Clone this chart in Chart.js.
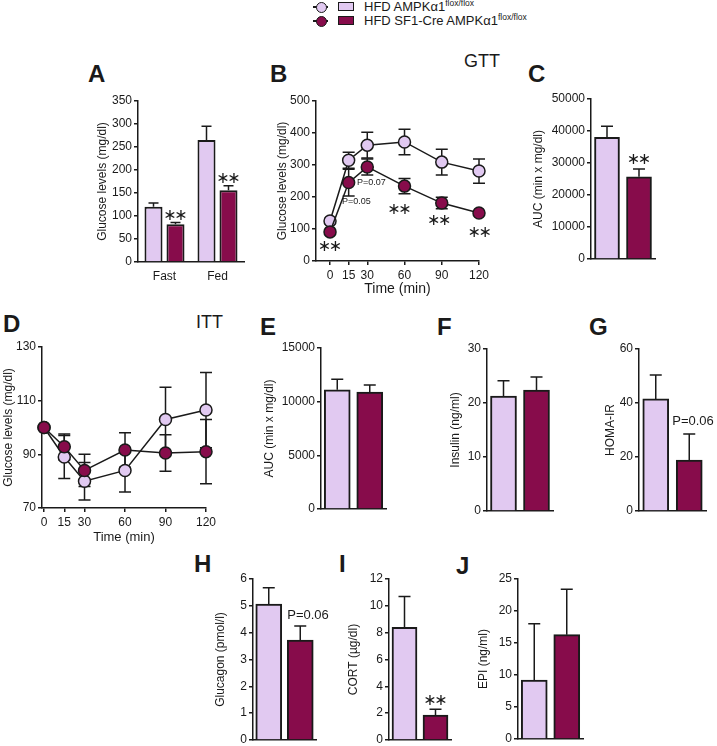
<!DOCTYPE html>
<html>
<head>
<meta charset="utf-8">
<script src="https://cdn.jsdelivr.net/npm/chart.js@4.4.1/dist/chart.umd.min.js"></script>
<style>
  body { margin: 0; width: 717px; height: 746px; overflow: hidden; background: #fff;
         position: relative; font-family: "Liberation Sans", Arial, sans-serif; color: #1a1a1a; }
  canvas { position: absolute; }
  .letter { position: absolute; font-weight: bold; font-size: 24px; line-height: 24px; }
  .sub { position: absolute; font-size: 18px; line-height: 18px; }
  .lg { position: absolute; box-sizing: border-box; }
  .lgtext { position: absolute; font-size: 13px; line-height: 14px; white-space: nowrap; }
  .lgtext sup { font-size: 8.5px; vertical-align: 5px; line-height: 0; }
</style>
</head>
<body>

<!-- legend -->
<div class="lg" style="left:313px; top:6px; width:15px; height:1.5px; background:#1a1a1a"></div>
<div class="lg" style="left:316px; top:1.5px; width:11px; height:11px; border:1.5px solid #1a1a1a; border-radius:50%; background:#e1c9f1"></div>
<div class="lg" style="left:338px; top:2px; width:16px; height:9px; border:1.5px solid #1a1a1a; background:#e1c9f1"></div>
<div class="lgtext" style="left:364px; top:0px">HFD AMPKα1<sup>flox/flox</sup></div>

<div class="lg" style="left:313px; top:20px; width:15px; height:1.5px; background:#1a1a1a"></div>
<div class="lg" style="left:316px; top:15.5px; width:11px; height:11px; border:1.5px solid #1a1a1a; border-radius:50%; background:#870c4b"></div>
<div class="lg" style="left:338px; top:16px; width:16px; height:9px; border:1.5px solid #1a1a1a; background:#870c4b"></div>
<div class="lgtext" style="left:364px; top:14px">HFD SF1-Cre AMPKα1<sup>flox/flox</sup></div>

<!-- panel letters -->
<div class="letter" style="left:88px; top:62px">A</div>
<div class="letter" style="left:270px; top:62px">B</div>
<div class="sub" style="left:464px; top:52px">GTT</div>
<div class="letter" style="left:528px; top:62px">C</div>
<div class="letter" style="left:3px; top:312px">D</div>
<div class="sub" style="left:196px; top:313px">ITT</div>
<div class="letter" style="left:260px; top:315px">E</div>
<div class="letter" style="left:437px; top:315px">F</div>
<div class="letter" style="left:589px; top:315px">G</div>
<div class="letter" style="left:194px; top:552px">H</div>
<div class="letter" style="left:339px; top:552px">I</div>
<div class="letter" style="left:456px; top:554px">J</div>

<script>
// colours
var lightFill = '#e1c9f1';
var darkFill = '#870c4b';
var ink = '#1a1a1a';

// A - fasting / fed glucose
var aCategories = ['Fast', 'Fed'];
var aControl = [120, 265];
var aControlErr = [8, 30];
var aKO = [82, 156];
var aKOErr = [4, 10];

// B - GTT
var gttTimes = [0, 15, 30, 60, 90, 120];
var gttControl = [125, 315, 362, 372, 309, 281];
var gttControlErr = [8, 25, 40, 40, 40, 38];
var gttKO = [91, 245, 294, 234, 181, 150];
var gttKOErr = [5, 42, 25, 24, 18, 5];

// C - GTT AUC
var cAUC = [38000, 25700];
var cAUCErr = [3500, 2400];

// D - ITT
var ittTimes = [0, 15, 30, 60, 90, 120];
var ittControl = [100, 89, 80, 84, 103, 106.5];
var ittControlErr = [0, 8, 7, 8, 12, 14];
var ittKO = [100, 92.8, 84, 91.6, 90.5, 91];
var ittKOErr = [0, 4.8, 6, 6.4, 6.8, 12];

// E-J
var eAUC = [11100, 10900];
var eAUCErr = [1000, 650];
var fInsulin = [21.3, 22.4];
var fInsulinErr = [2.8, 2.4];
var gHoma = [41.5, 18.9];
var gHomaErr = [8.9, 9.6];
var hGlucagon = [5.07, 3.72];
var hGlucagonErr = [0.6, 0.53];
var iCort = [8.4, 1.85];
var iCortErr = [2.3, 0.45];
var jEpi = [9.2, 16.3];
var jEpiErr = [8.8, 7.1];

var STARS = 'stars';

Chart.defaults.font.family = '"Liberation Sans", Arial, sans-serif';
Chart.defaults.font.size = 12;
Chart.defaults.color = ink;

// error bars drawn through the y scale
var errorBars = {
  id: 'errorBars',
  beforeDatasetsDraw: function(chart, args, opts) { if (opts.behind) drawErrors(chart, opts); },
  afterDatasetsDraw: function(chart, args, opts) { if (!opts.behind) drawErrors(chart, opts); }
};
function drawErrors(chart, opts) {
  var ctx = chart.ctx, y = chart.scales.y, cap = opts.cap || 6;
  ctx.save();
  ctx.strokeStyle = ink;
  ctx.lineWidth = 1.5;
  (opts.errors || []).forEach(function(errs, ds) {
    var meta = chart.getDatasetMeta(ds);
    var vals = chart.data.datasets[ds].data;
    meta.data.forEach(function(el, i) {
      var e = errs[i];
      if (!e) return;
      var v = typeof vals[i] === 'object' ? vals[i].y : vals[i];
      var top = y.getPixelForValue(v + e);
      var bot = opts.both ? y.getPixelForValue(v - e) : y.getPixelForValue(v);
      ctx.beginPath();
      ctx.moveTo(el.x, top); ctx.lineTo(el.x, bot);
      ctx.moveTo(el.x - cap, top); ctx.lineTo(el.x + cap, top);
      if (opts.both) { ctx.moveTo(el.x - cap, bot); ctx.lineTo(el.x + cap, bot); }
      ctx.stroke();
    });
  });
  ctx.restore();
}

// significance notes
var notes = {
  id: 'notes',
  afterDatasetsDraw: function(chart, args, opts) {
    var ctx = chart.ctx;
    (opts.items || []).forEach(function(n) {
      var x = n.ds !== undefined ? chart.getDatasetMeta(n.ds).data[n.i].x : chart.scales.x.getPixelForValue(n.x);
      x += n.dx || 0;
      var y = chart.scales.y.getPixelForValue(n.y);
      ctx.save();
      ctx.fillStyle = ink;
      ctx.textBaseline = 'middle';
      if (n.text === STARS) {
        ctx.font = '16px "DejaVu Sans"';
        ctx.textAlign = 'center';
        ctx.fillText('\u2217', x - 5.5, y);
        ctx.fillText('\u2217', x + 5.5, y);
      } else {
        ctx.font = (n.size || 12) + 'px "Liberation Sans", Arial, sans-serif';
        ctx.textAlign = n.align || 'center';
        ctx.fillText(n.text, x, y);
      }
      ctx.restore();
    });
  }
};

function plain(v) { return String(v); }

function yAxis(min, max, step, title, W) {
  return {
    min: min, max: max,
    ticks: { stepSize: step, padding: 2, color: ink, font: { size: 12 }, callback: plain },
    grid: { display: true, drawOnChartArea: false, drawTicks: true, tickLength: 4, color: ink, lineWidth: 1.5 },
    border: { display: true, color: ink, width: 1.5 },
    title: { display: true, text: title, color: ink, font: { size: 12 }, padding: 0 },
    afterFit: function(s) { s.width = W; }
  };
}

function barX(H, showLabels) {
  return {
    ticks: { display: showLabels, padding: 7, color: ink, font: { size: 12 } },
    grid: { display: false, drawTicks: false },
    border: { display: true, color: ink, width: 1.5 },
    afterFit: function(s) { s.height = H; }
  };
}

function timeX(min, times, H, titleSize) {
  return {
    type: 'linear', min: min, max: 120,
    afterBuildTicks: function(s) { s.ticks = times.map(function(v) { return { value: v }; }); },
    ticks: { padding: 3, color: ink, font: { size: 12 }, autoSkip: false, maxRotation: 0, callback: plain },
    grid: { display: true, drawOnChartArea: false, drawTicks: true, tickLength: 4, color: ink, lineWidth: 1.5 },
    border: { display: true, color: ink, width: 1.5 },
    title: { display: true, text: 'Time (min)', color: ink, font: { size: titleSize }, padding: 0 },
    afterFit: function(s) { s.height = H; }
  };
}

function makeChart(box, W, H, pl, pr, config) {
  var padT = 14, padB = 10;
  var c = document.createElement('canvas');
  var left = box.l - W - pl, top = box.t - padT;
  var w = box.r - box.l + W + pl + pr, h = box.b - box.t + padT + H + padB;
  c.width = w; c.height = h;
  c.style.left = left + 'px'; c.style.top = top + 'px';
  c.style.width = w + 'px'; c.style.height = h + 'px';
  document.body.appendChild(c);
  config.options.layout = { padding: { left: pl, right: pr, top: padT, bottom: padB } };
  config.options.responsive = false;
  config.options.animation = false;
  config.options.devicePixelRatio = 1;
  config.options.plugins.legend = { display: false };
  config.options.plugins.tooltip = { enabled: false };
  config.plugins = [errorBars, notes];
  return new Chart(c, config);
}

function twoBars(box, W, values, errs, yMin, yMax, step, title, thickness, noteItems) {
  return makeChart(box, W, 2, 2, 14, {
    type: 'bar',
    data: {
      labels: ['control', 'SF1-Cre'],
      datasets: [{
        data: values,
        backgroundColor: [lightFill, darkFill],
        borderColor: ink, borderWidth: 2,
        barThickness: thickness
      }]
    },
    options: {
      scales: { x: barX(2, false), y: yAxis(yMin, yMax, step, title, W) },
      plugins: {
        errorBars: { errors: [errs], cap: 6 },
        notes: { items: noteItems || [] }
      }
    }
  });
}

function points(times, vals) {
  return times.map(function(t, i) { return { x: t, y: vals[i] }; });
}

function lineSet(times, vals, fill, order) {
  return {
    data: points(times, vals),
    borderColor: ink, borderWidth: 1.5,
    pointRadius: 6, pointBorderWidth: 1.5,
    pointBorderColor: ink, pointBackgroundColor: fill,
    order: order, clip: false
  };
}

// A
makeChart({ l: 138, t: 101, r: 244, b: 262 }, 43, 30, 2, 10, {
  type: 'bar',
  data: {
    labels: aCategories,
    datasets: [
      { data: aControl, backgroundColor: lightFill, borderColor: ink, borderWidth: 2,
        categoryPercentage: 0.83, barPercentage: 0.82 },
      { data: aKO, backgroundColor: darkFill, borderColor: ink, borderWidth: 2,
        categoryPercentage: 0.83, barPercentage: 0.82 }
    ]
  },
  options: {
    scales: { x: barX(30, true), y: yAxis(0, 350, 50, 'Glucose levels (mg/dl)', 43) },
    plugins: {
      errorBars: { errors: [aControlErr, aKOErr], cap: 5 },
      notes: { items: [
        { ds: 1, i: 0, y: 100, text: STARS },
        { ds: 1, i: 1, y: 180, text: STARS }
      ] }
    }
  }
});

// B
makeChart({ l: 316, t: 101, r: 479, b: 261 }, 41, 37, 2, 14, {
  type: 'line',
  data: {
    datasets: [
      lineSet(gttTimes, gttControl, lightFill, 1),
      lineSet(gttTimes, gttKO, darkFill, 0)
    ]
  },
  options: {
    scales: { x: timeX(-11.3, gttTimes, 37, 14), y: yAxis(0, 500, 100, 'Glucose levels (mg/dl)', 41) },
    plugins: {
      errorBars: { errors: [gttControlErr, gttKOErr], both: true, behind: true, cap: 6 },
      notes: { items: [
        { x: 0, y: 45, text: STARS },
        { x: 9.7, y: 187, text: 'P=0.05', size: 9, align: 'left' },
        { x: 21.7, y: 244, text: 'P=0.07', size: 9, align: 'left' },
        { x: 56, y: 159, text: STARS },
        { x: 88, y: 125, text: STARS },
        { x: 120.5, y: 88, text: STARS }
      ] }
    }
  }
});

// C
twoBars({ l: 591, t: 99, r: 655, b: 259 }, 60, cAUC, cAUCErr, 0, 50000, 10000, 'AUC (min x mg/dl)', 25,
  [{ x: 1, y: 30900, text: STARS }]);

// D
makeChart({ l: 42, t: 347, r: 206, b: 508 }, 41, 37, 1, 14, {
  type: 'line',
  data: {
    datasets: [
      lineSet(ittTimes, ittControl, lightFill, 1),
      lineSet(ittTimes, ittKO, darkFill, 0)
    ]
  },
  options: {
    scales: { x: timeX(-1.5, ittTimes, 37, 13), y: yAxis(70, 130, 20, 'Glucose levels (mg/dl)', 41) },
    plugins: {
      errorBars: { errors: [ittControlErr, ittKOErr], both: true, behind: true, cap: 6 },
      notes: { items: [] }
    }
  }
});

// E
twoBars({ l: 321, t: 348, r: 386, b: 509 }, 59, eAUC, eAUCErr, 0, 15000, 5000, 'AUC (min x mg/dl)', 26);
// F
twoBars({ l: 487, t: 349, r: 553, b: 511 }, 39, fInsulin, fInsulinErr, 0, 30, 10, 'Insulin (ng/ml)', 26);
// G
twoBars({ l: 639, t: 349, r: 706, b: 511 }, 36, gHoma, gHomaErr, 0, 60, 20, 'HOMA-IR', 26,
  [{ x: 1, dx: -17, y: 33, text: 'P=0.06', size: 13, align: 'left' }]);
// H
twoBars({ l: 253, t: 579, r: 316, b: 740 }, 40, hGlucagon, hGlucagonErr, 0, 6, 1, 'Glucagon (pmol/l)', 26,
  [{ x: 1, dx: -13, y: 4.66, text: 'P=0.06', size: 13, align: 'left' }]);
// I
twoBars({ l: 389, t: 579, r: 451, b: 740 }, 43, iCort, iCortErr, 0, 12, 2, 'CORT (\u00b5g/dl)', 25,
  [{ x: 1, y: 2.9, text: STARS }]);
// J
twoBars({ l: 518, t: 579, r: 583, b: 739 }, 42, jEpi, jEpiErr, 0, 25, 5, 'EPI (ng/ml)', 26);
</script>
</body>
</html>
